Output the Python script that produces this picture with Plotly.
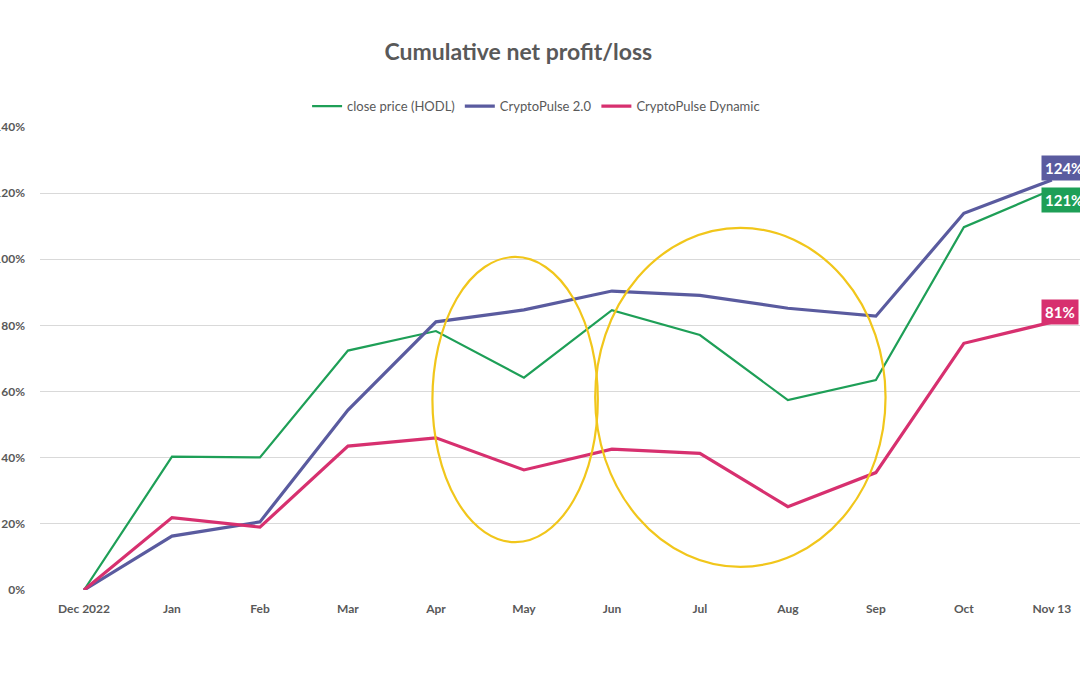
import plotly.graph_objects as go

months = ["Dec 2022", "Jan", "Feb", "Mar", "Apr", "May", "Jun", "Jul", "Aug", "Sep", "Oct", "Nov 13"]
hodl = [0, 40.3, 40.1, 72.4, 78.3, 64.2, 84.6, 77.1, 57.4, 63.5, 109.7, 121]
cp20 = [0, 16.3, 20.6, 54.4, 81.1, 84.7, 90.4, 89.1, 85.2, 82.8, 113.9, 124]
cpdyn = [0, 21.9, 19.0, 43.5, 46.0, 36.3, 42.6, 41.3, 25.2, 35.5, 74.6, 81]
y_ticks = [0, 20, 40, 60, 80, 100, 120, 140]
end_labels = ["121%", "124%", "81%"]

# highlight ellipses (category index / value units)
ellipse_x = [(3.96, 5.84), (5.81, 9.11)]
ellipse_y = [(14.5, 100.7), (7.0, 109.5)]

GREEN = "#1E9F57"
BLUE = "#5A5B9F"
PINK = "#D7306F"
GRAY = "#595959"
FONT = "Lato"

fig = go.Figure()
series = [("close price (HODL)", hodl, GREEN, 2.2),
          ("CryptoPulse 2.0", cp20, BLUE, 3.2),
          ("CryptoPulse Dynamic", cpdyn, PINK, 3.2)]
for name, vals, col, w in series:
    fig.add_trace(go.Scatter(x=months, y=vals, mode="lines", name=name,
                             line=dict(color=col, width=w), cliponaxis=False))

yshifts = [-10, 12, 10]
for (name, vals, col, w), lab, ys in zip(series, end_labels, yshifts):
    fig.add_annotation(x=months[-1], y=vals[-1], text="<b>" + lab + "</b>",
                       showarrow=False, xanchor="left", yanchor="middle",
                       xshift=-11, yshift=ys, bgcolor=col, borderpad=3,
                       font=dict(family=FONT, size=15, color="white"))

for (x0, x1), (y0, y1) in zip(ellipse_x, ellipse_y):
    fig.add_shape(type="circle", xref="x", yref="y", x0=x0, x1=x1, y0=y0, y1=y1,
                  line=dict(color="#F1C61B", width=2.2), layer="above")

fig.update_layout(
    width=1080, height=675,
    paper_bgcolor="white", plot_bgcolor="white",
    margin=dict(l=40, r=0, t=127, b=85),
    title=dict(text="<b>Cumulative net profit/loss</b>", x=0.48, xanchor="center",
               y=0.923, yanchor="middle",
               font=dict(family=FONT, size=23, color=GRAY)),
    legend=dict(orientation="h", x=0.477, xanchor="center", y=1.045, yanchor="middle",
                font=dict(family=FONT, size=13, color=GRAY), itemwidth=30,
                bgcolor="rgba(0,0,0,0)"),
    showlegend=True,
    font=dict(family=FONT, color=GRAY),
)
fig.update_xaxes(type="category", range=[-0.5, 11.32], showgrid=False, showline=False,
                 ticks="", tickfont=dict(family=FONT, size=12, color=GRAY, weight="bold"),
                 ticklabelstandoff=10, automargin=False, zeroline=False, fixedrange=True)
fig.update_yaxes(range=[0, 140], tickvals=y_ticks, ticktext=[f"{v}%" for v in y_ticks],
                 showgrid=True, gridcolor="#D9D9D9", gridwidth=1, zeroline=False,
                 showline=False, ticks="", ticklabelstandoff=14,
                 tickfont=dict(family=FONT, size=12, color=GRAY, weight="bold"),
                 automargin=False, fixedrange=True)

fig.write_html("out.html", config={"displayModeBar": False},
               post_script="document.body.style.margin='0';document.body.style.overflow='hidden';")
